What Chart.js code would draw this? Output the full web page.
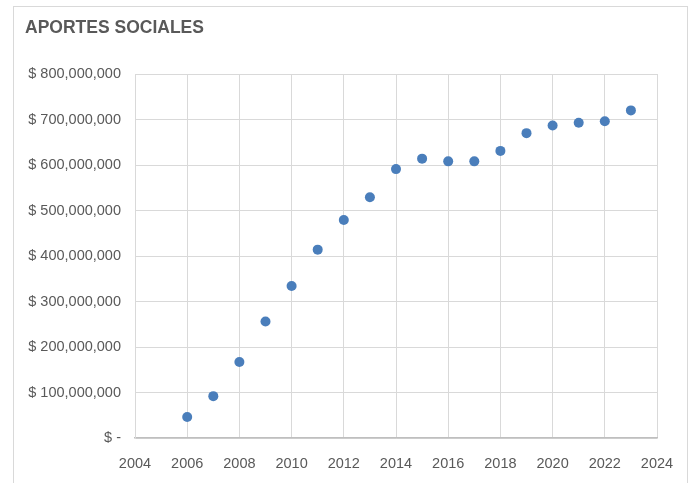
<!DOCTYPE html>
<html>
<head>
<meta charset="utf-8">
<script src="https://cdn.jsdelivr.net/npm/chart.js@4/dist/chart.umd.min.js"></script>
<style>
  html, body { margin: 0; padding: 0; background: #fff; }
  #wrap { position: relative; width: 691px; height: 483px; overflow: hidden; }
  #frame {
    position: absolute; left: 13px; top: 6px; width: 675px; height: 500px;
    border: 1px solid #d9d9d9; box-sizing: border-box;
  }
  #chart { position: absolute; left: 0; top: 0; }
</style>
</head>
<body>
<div id="wrap">
  <div id="frame"></div>
  <canvas id="chart" width="691" height="483"></canvas>
</div>
<script>
/* ──── Données ─────────────────────────────────────────── */
const years   = [2006, 2007, 2008, 2009, 2010, 2011, 2012, 2013, 2014,
                 2015, 2016, 2017, 2018, 2019, 2020, 2021, 2022, 2023];
const aportes = [46e6, 92e6, 167e6, 256e6, 334e6, 414e6, 479e6, 529e6, 591e6,
                 614e6, 608e6, 608e6, 631e6, 670e6, 687e6, 693e6, 696e6, 720e6];
const xTicks  = [2004, 2006, 2008, 2010, 2012, 2014, 2016, 2018, 2020, 2022, 2024];
const yTicks  = [0, 1e8, 2e8, 3e8, 4e8, 5e8, 6e8, 7e8, 8e8];

const txt  = '#595959';
const grid = '#d9d9d9';
const font = { family: '"Liberation Sans", Arial, sans-serif', size: 14.5 };

function fmtPeso(v) {
  if (v === 0) return '$ -';
  return '$ ' + v.toLocaleString('en-US');
}

new Chart(document.getElementById('chart'), {
  type: 'scatter',
  data: {
    datasets: [{
      data: years.map((y, i) => ({ x: y, y: aportes[i] })),
      backgroundColor: '#4a7ebb',
      borderWidth: 0,
      pointRadius: 5,
      pointHoverRadius: 5,
    }],
  },
  options: {
    responsive: false,
    animation: false,
    layout: { padding: { left: 25, right: 34, top: 0, bottom: 0 } },
    plugins: {
      legend: { display: false },
      tooltip: { enabled: false },
      title: {
        display: true,
        text: 'APORTES SOCIALES',
        align: 'start',
        color: txt,
        font: { family: font.family, size: 17.5, weight: 'bold', lineHeight: 1.2 },
        padding: { top: 18, bottom: 35 },
      },
    },
    scales: {
      x: {
        type: 'linear',
        min: 2004, max: 2024,
        afterBuildTicks: s => { s.ticks = xTicks.map(v => ({ value: v })); },
        afterFit: s => { s.height = 45; },
        ticks: { color: txt, font, padding: 17, callback: v => String(v) },
        grid: { color: grid, drawTicks: false },
        border: { color: '#bfbfbf', width: 1.5 },
      },
      y: {
        min: 0, max: 8e8,
        afterBuildTicks: s => { s.ticks = yTicks.map(v => ({ value: v })); },
        afterFit: s => { s.width = 110; },
        ticks: { color: txt, font, padding: 14, callback: fmtPeso },
        grid: { color: grid, drawTicks: false },
        border: { color: grid },
      },
    },
  },
});
</script>
</body>
</html>
